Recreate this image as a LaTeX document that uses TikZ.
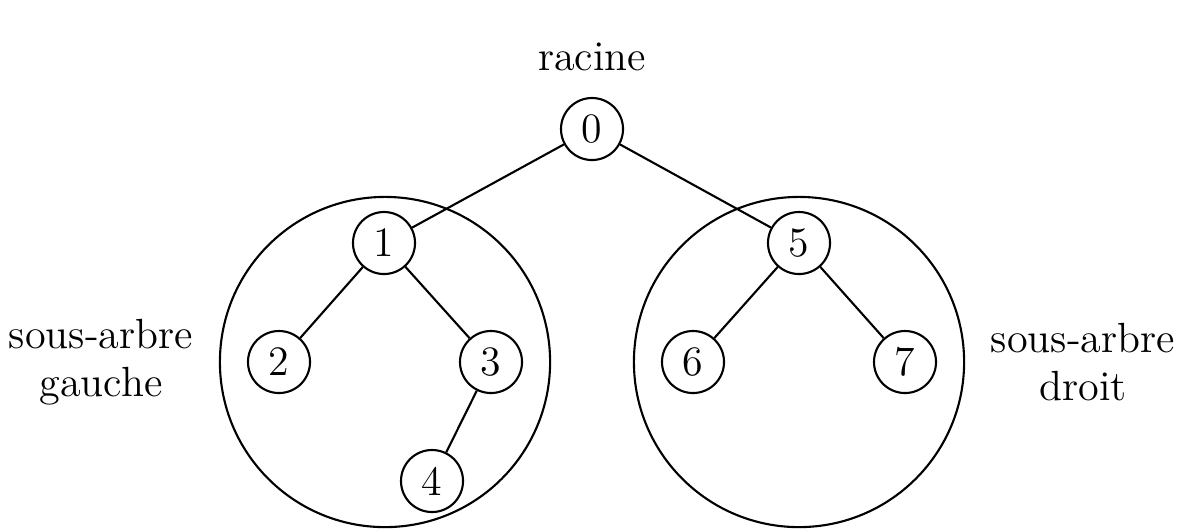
\documentclass[tikz,border=0pt]{standalone}
\begin{document}
\begin{tikzpicture}[x=0.01cm,y=-0.01cm,line width=0.6pt,
  tnode/.style={draw,circle,minimum size=0.62cm,inner sep=0pt,font=\fontsize{11.9}{14}\selectfont},
  lbl/.style={align=center,font=\fontsize{12}{13.7}\selectfont,inner sep=0pt}]
\useasboundingbox (0,0) rectangle (1183,529);
\node[lbl] (r) at (592,57) {racine};
\node[tnode] (n0) at (592,129) {0};
\node[tnode] (n1) at (384,243) {1};
\node[tnode] (n5) at (799,243) {5};
\node[tnode] (n2) at (279,362) {2};
\node[tnode] (n3) at (491,362) {3};
\node[tnode] (n4) at (432,481) {4};
\node[tnode] (n6) at (693,362) {6};
\node[tnode] (n7) at (905,362) {7};
\draw (n0) -- (n1);
\draw (n0) -- (n5);
\draw (n1) -- (n2);
\draw (n1) -- (n3);
\draw (n3) -- (n4);
\draw (n5) -- (n6);
\draw (n5) -- (n7);
\node[draw,circle,minimum size=3.3cm,inner sep=0pt] (gl) at (385,362) {};
\node[draw,circle,minimum size=3.3cm,inner sep=0pt] (dr) at (799,362) {};
\node[lbl] (g) at (101,362) {sous-arbre\\gauche};
\node[lbl] (d) at (1083,362) {sous-arbre\\droit};
\end{tikzpicture}
\end{document}
